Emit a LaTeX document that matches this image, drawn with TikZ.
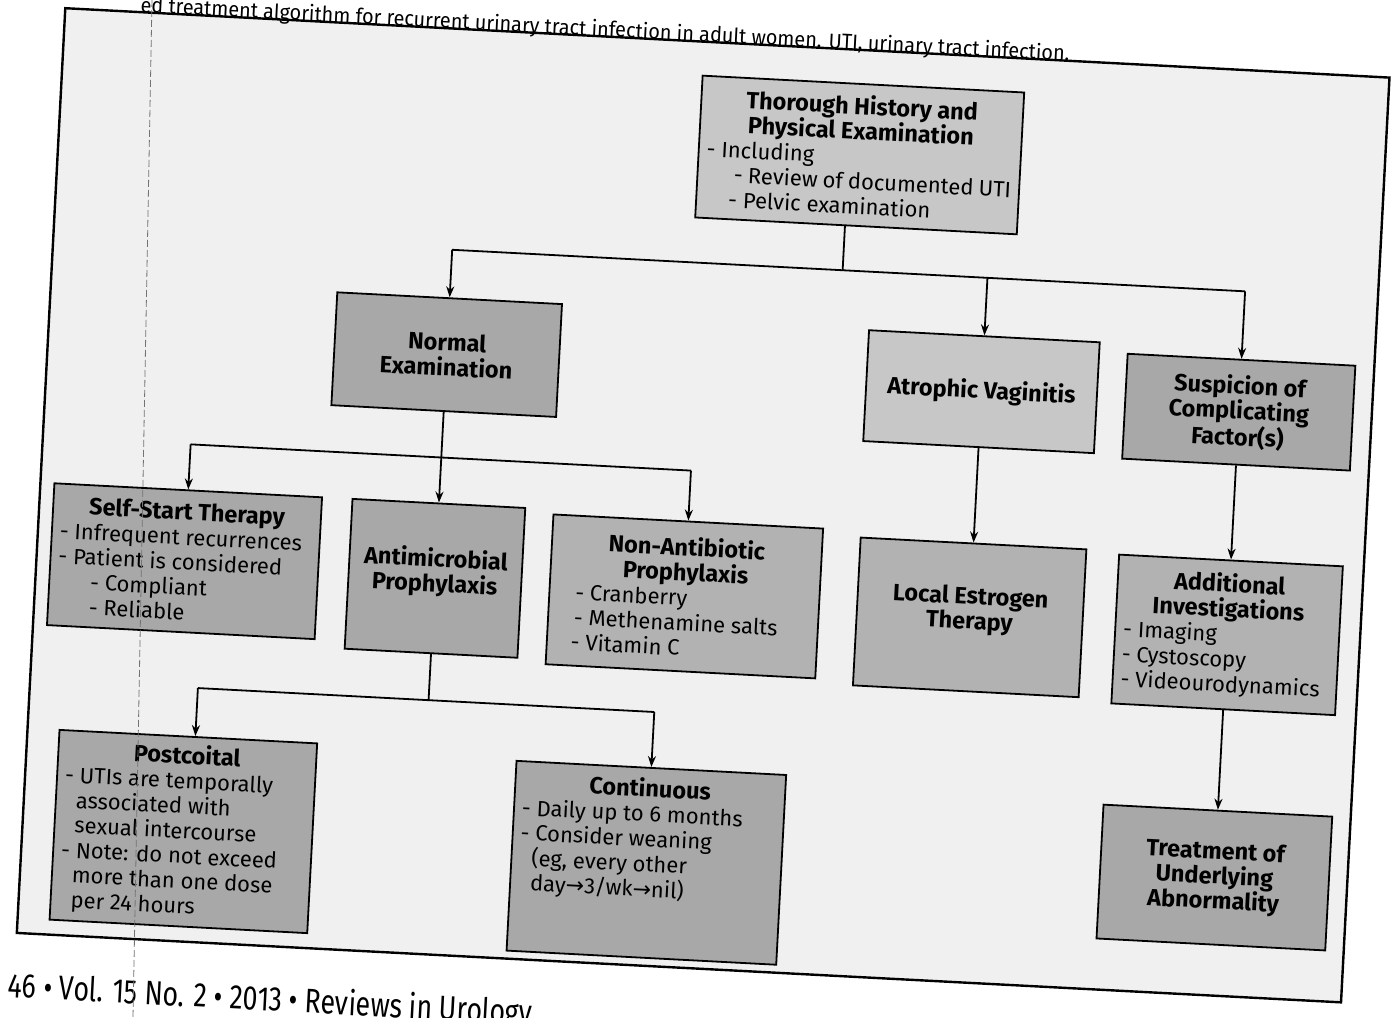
\documentclass[tikz,border=0pt]{standalone}
\usepackage{fontspec}
\setmainfont{Fira Sans}
\newfontfamily\arrowfont{DejaVu Sans}
\usetikzlibrary{calc,arrows.meta}
\newcommand{\ttl}{\fontsize{23.5}{25}\selectfont\bfseries}
\begin{document}
\begin{tikzpicture}[x=1pt,y=-1pt,
  bx/.style={draw, line width=1.8pt, inner sep=8pt, font=\fontsize{22}{25}\selectfont},
  dk/.style={bx, fill=black!34},
  lt/.style={bx, fill=black!22},
  md/.style={bx, fill=black!30},
  conn/.style={line width=1.8pt},
  arr/.style={conn, -{Stealth[length=11pt,width=8pt]}},
  frame/.style={line width=2.4pt, fill=black!6},
  scanline/.style={black!55, line width=0.8pt, dash pattern=on 7pt off 3pt}
]
\useasboundingbox (0,0) rectangle (1396,1017);
\clip (0,0) rectangle (1396,1017);
\fill[white] (0,0) rectangle (1396,1017);
\begin{scope}[rotate around={-3:(698,508)}, every node/.append style={transform shape}]
  \draw[frame] (40,42) rectangle (1366,968);
  \node[anchor=west, inner sep=0pt, font=\fontsize{21}{25}\selectfont] (cap) at (115,36)
    {\resizebox{930pt}{\height}{ed treatment algorithm for recurrent urinary tract infection in adult women. UTI, urinary tract infection.}};
  \node[anchor=west, inner sep=0pt, font=\fontsize{34}{40}\selectfont] (foot) at (34,1023)
    {\resizebox{525pt}{\height}{46 • Vol. 15 No. 2 • 2013 • Reviews in Urology}};

  % boxes
  \node[lt] (thor) at (841,147) {\parbox[c][126pt][c]{306pt}{%
    {\centering\ttl Thorough History and\\Physical Examination\par}
    - Including\\
    \hspace*{1.3em}- Review of documented UTI\\
    \hspace*{1.1em}- Pelvic examination}};
  \node[dk] (norm) at (439,368) {\parbox[c][97pt][c]{209pt}{\centering\ttl Normal\\Examination}};
  \node[lt] (atro) at (975,377) {\parbox[c][95pt][c]{215pt}{\centering\ttl Atrophic Vaginitis}};
  \node[dk] (susp) at (1233,384) {\parbox[c][89pt][c]{212pt}{\centering\ttl Suspicion of\\Complicating\\Factor(s)}};

  \node[dk] (self) at (188,588) {\parbox[c][126pt][c]{252pt}{%
    {\centering\ttl Self-Start Therapy\par}
    - Infrequent recurrences\\
    - Patient is considered\\
    \hspace*{1.5em}- Compliant\\
    \hspace*{1.5em}- Reliable}};
  \node[dk] (anti) at (439,592) {\parbox[c][134pt][c]{157pt}{\centering\ttl Antimicrobial\\Prophylaxis\\[12pt]}};
  \node[md] (nona) at (689,597) {\parbox[c][134pt][c]{254pt}{%
    {\centering\ttl Non-Antibiotic\\Prophylaxis\par}
    \hspace*{18pt}- Cranberry\\
    \hspace*{18pt}- Methenamine salts\\
    \hspace*{16pt}- Vitamin C}};
  \node[md] (estr) at (975,603) {\parbox[c][132pt][c]{210pt}{\centering\ttl Local Estrogen\\Therapy\\[14pt]}};
  \node[md] (addi) at (1233,607) {\parbox[c][133pt][c]{208pt}{%
    {\centering\ttl Additional\\Investigations\par}
    - Imaging\\
    - Cystoscopy\\
    - Videourodynamics}};

  \node[dk] (post) at (201,858) {\parbox[c][174pt][c]{242pt}{%
    {\centering\ttl Postcoital\par}
    - UTIs are temporally\\
    \hspace*{0.55em}associated with\\
    \hspace*{0.55em}sexual intercourse\\
    - Note: do not exceed\\
    \hspace*{0.55em}more than one dose\\
    \hspace*{0.55em}per 24 hours}};
  \node[dk] (cont) at (665,865) {\parbox[c][174pt][t]{254pt}{%
    \vspace*{2pt}{\centering\ttl Continuous\par}
    - Daily up to 6 months\\
    - Consider weaning\\
    \hspace*{0.55em}(eg, every other\\
    \hspace*{0.55em}day{\arrowfont →}3/wk{\arrowfont →}nil)}};
  \node[dk] (trea) at (1233,850) {\parbox[c][118pt][c]{213pt}{\centering\ttl Treatment of\\Underlying\\Abnormality}};

  % bus coordinates
  \coordinate (j0) at (830,263);
  \coordinate (b1L) at (439,263);
  \coordinate (b1A) at (975,263);
  \coordinate (b1R) at (1233,263);
  \coordinate (b2L) at (188,471);
  \coordinate (b2M) at (439,471);
  \coordinate (b2R) at (689,471);
  \coordinate (b3L) at (208,714);
  \coordinate (b3M) at (439,714);
  \coordinate (b3R) at (665,714);

  % connectors
  \draw[conn] ($(thor.south west)!0.466!(thor.south east)$) -- (j0);
  \draw[conn] (b1L) -- (b1R);
  \draw[arr] (b1L) -- (norm.north);
  \draw[arr] (b1A) -- (atro.north);
  \draw[arr] (b1R) -- (susp.north);

  \draw[conn] (norm.south) -- (b2M);
  \draw[conn] (b2L) -- (b2R);
  \draw[arr] (b2L) -- (self.north);
  \draw[arr] (b2M) -- (anti.north);
  \draw[arr] (b2R) -- (nona.north);

  \draw[conn] (anti.south) -- (b3M);
  \draw[conn] (b3L) -- (b3R);
  \draw[arr] (b3L) -- ($(post.north west)!0.527!(post.north east)$);
  \draw[arr] (b3R) -- (cont.north);

  \draw[arr] (atro.south) -- (estr.north);
  \draw[arr] (susp.south) -- (addi.north);
  \draw[arr] (addi.south) -- (trea.north);
\end{scope}
\draw[scanline] (152,0) -- (133,1017);
\end{tikzpicture}
\end{document}
